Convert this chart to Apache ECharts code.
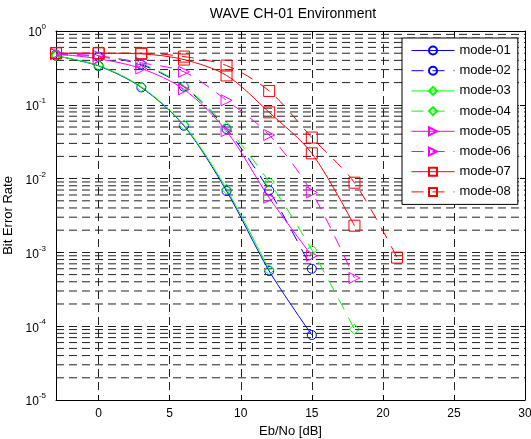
<!DOCTYPE html>
<html>
<head>
<meta charset="utf-8">
<script src="https://cdn.jsdelivr.net/npm/echarts@6/dist/echarts.min.js"></script>
<style>html,body{margin:0;padding:0;background:#fff}#c{width:531px;height:439px}</style>
</head>
<body>
<div id="c"></div>
<script>
// ---- data ----
var ebno = [-3, 0, 3, 6, 9, 12, 15, 18, 21];
var mode01 = [0.46, 0.336, 0.172, 0.052, 0.0068, 0.00056, 0.000076];
var mode02 = [0.48, 0.45, 0.35, 0.176, 0.047, 0.0069, 0.0006];
var mode03 = [0.46, 0.34, 0.175, 0.053, 0.0072, 0.00058];
var mode04 = [0.48, 0.45, 0.36, 0.18, 0.05, 0.009, 0.00108, 0.000091];
var mode05 = [0.49, 0.42, 0.31, 0.162, 0.044, 0.0055, 0.0009];
var mode06 = [0.49, 0.46, 0.37, 0.28, 0.115, 0.039, 0.0065, 0.00045];
var mode07 = [0.5, 0.5, 0.49, 0.41, 0.25, 0.079, 0.022, 0.0023];
var mode08 = [0.5, 0.5, 0.5, 0.45, 0.34, 0.154, 0.036, 0.0088, 0.00085];
var seriesNames = ['mode-01','mode-02','mode-03','mode-04','mode-05','mode-06','mode-07','mode-08'];
var xTickMin = -3, xTickMax = 30;
var yMin = 1e-5, yMax = 1;
var minorMantissas = [2,3,4,5,6,7,8,9];
var decades = [1e-5, 1e-4, 1e-3, 1e-2, 1e-1];

// minor log grid lines as broken horizontal segments spanning the x range
var minorGrid = [];
decades.forEach(function (d) {
  minorMantissas.forEach(function (m) {
    minorGrid.push([xTickMin, m * d], [xTickMax, m * d], '-');
  });
});

function pairs(vals) { return vals.map(function (v, i) { return [ebno[i], v]; }); }

var styles = [
  { data: mode01, color: '#0000ff', symbol: 'circle', size: 9, dash: 'solid' },
  { data: mode02, color: '#0000ff', symbol: 'circle', size: 9, dash: [12, 9] },
  { data: mode03, color: '#00ff00', symbol: 'diamond', size: 10, dash: 'solid' },
  { data: mode04, color: '#00ff00', symbol: 'diamond', size: 10, dash: [12, 9] },
  { data: mode05, color: '#ff00ff', symbol: 'triangle', size: 11, dash: 'solid', rot: -90 },
  { data: mode06, color: '#ff00ff', symbol: 'triangle', size: 11, dash: [12, 9], rot: -90 },
  { data: mode07, color: '#ff0000', symbol: 'rect', size: 11, dash: 'solid' },
  { data: mode08, color: '#ff0000', symbol: 'rect', size: 11, dash: [12, 9] }
];

var gridDash = { color: '#222', width: 1, type: [8, 5] };
var font = 'Liberation Sans, Arial, sans-serif';

var series = [{
  type: 'line', name: '_grid', data: minorGrid, z: 1, silent: true,
  symbol: 'none', connectNulls: false,
  lineStyle: gridDash, emphasis: { disabled: true }
}];
styles.forEach(function (s, i) {
  series.push({
    type: 'line', name: seriesNames[i], data: pairs(s.data), z: 3,
    smooth: 0.3, symbol: s.symbol, symbolSize: s.size, symbolRotate: s.rot || 0,
    showAllSymbol: true,
    lineStyle: { color: s.color, width: 1, type: s.dash },
    itemStyle: { color: 'rgba(255,255,255,0)', borderColor: s.color, borderWidth: 1 },
    emphasis: { disabled: true }
  });
});

var chart = echarts.init(document.getElementById('c'), null, { renderer: 'canvas' });
chart.setOption({
  animation: false,
  backgroundColor: '#fff',
  textStyle: { fontFamily: font },
  title: { text: 'WAVE CH-01 Environment', left: 288, textAlign: 'center', top: 2,
    textStyle: { fontSize: 14, fontWeight: 'normal', color: '#000', fontFamily: font } },
  grid: { left: 56, right: 6, top: 31, bottom: 39, containLabel: false, outerBoundsMode: 'none' },
  legend: {
    data: seriesNames, orient: 'vertical', left: 402, top: 38,
    padding: [6, 7, 6, 9], itemWidth: 43, itemHeight: 10, itemGap: 7.2,
    borderColor: '#000', borderWidth: 1, backgroundColor: '#fff',
    lineStyle: { width: 1 },
    textStyle: { fontSize: 13, color: '#000', fontFamily: font }
  },
  xAxis: [{
    type: 'value', min: xTickMin, max: xTickMax, splitNumber: 6,
    name: 'Eb/No [dB]', nameLocation: 'middle', nameGap: 22,
    nameTextStyle: { fontSize: 13, color: '#000', fontFamily: font },
    axisLine: { show: true, onZero: false, lineStyle: { color: '#000', width: 1 } },
    axisTick: { inside: true, length: 5, lineStyle: { color: '#000' } },
    axisLabel: { showMinLabel: false, margin: 8, fontSize: 12, color: '#000', fontFamily: font },
    splitLine: { show: true, lineStyle: gridDash }
  }, {
    type: 'value', position: 'top', min: xTickMin, max: xTickMax, splitNumber: 6,
    axisLine: { show: true, onZero: false, lineStyle: { color: '#000', width: 1 } },
    axisTick: { inside: true, length: 5, lineStyle: { color: '#000' } },
    axisLabel: { show: false }, splitLine: { show: false }
  }],
  yAxis: [{
    type: 'log', logBase: 10, min: yMin, max: yMax,
    name: 'Bit Error Rate', nameLocation: 'middle', nameGap: 33,
    nameTextStyle: { fontSize: 13, color: '#000', fontFamily: font },
    axisLine: { show: true, onZero: false, lineStyle: { color: '#000', width: 1 } },
    axisTick: { inside: true, length: 5, lineStyle: { color: '#000' } },
    axisLabel: {
      margin: 10, color: '#000', fontFamily: font,
      formatter: function (v) {
        var e = Math.round(Math.log10(v));
        return '{b|10}{s|' + e + '}';
      },
      rich: {
        b: { fontSize: 12, color: '#000', fontFamily: font, verticalAlign: 'bottom', lineHeight: 16 },
        s: { fontSize: 8, color: '#000', fontFamily: font, verticalAlign: 'top', lineHeight: 10 }
      }
    },
    splitLine: { show: true, lineStyle: gridDash }
  }, {
    type: 'log', logBase: 10, min: yMin, max: yMax, position: 'right',
    axisLine: { show: true, onZero: false, lineStyle: { color: '#000', width: 1 } },
    axisTick: { inside: true, length: 5, lineStyle: { color: '#000' } },
    axisLabel: { show: false }, splitLine: { show: false }
  }],
  series: series
});
</script>
</body>
</html>
